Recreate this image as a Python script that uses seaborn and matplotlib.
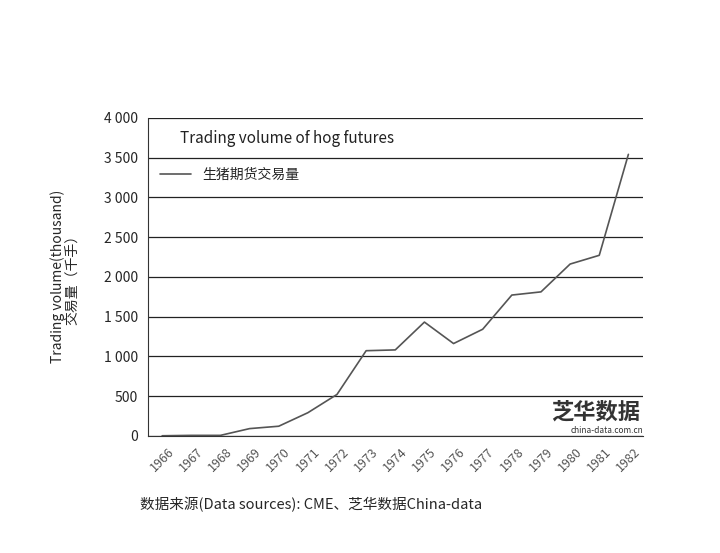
import matplotlib
matplotlib.use('Agg')
import matplotlib.pyplot as plt
import seaborn as sns
import pandas as pd
from matplotlib.ticker import FuncFormatter

years = [str(y) for y in range(1966, 1983)]
volume = [0, 5, 5, 90, 120, 290, 520, 1070, 1080, 1430, 1160, 1340, 1770, 1810, 2160, 2270, 3540]
yticks = [0, 500, 1000, 1500, 2000, 2500, 3000, 3500, 4000]

sns.set_style("white")
plt.rcParams['font.family'] = ['Noto Sans CJK SC', 'DejaVu Sans']

df = pd.DataFrame({'year': years, 'volume': volume})
fig = plt.figure(figsize=(7.2, 5.53), dpi=100)
ax = fig.add_axes([0.205, 0.212, 0.688, 0.575])
sns.lineplot(data=df, x='year', y='volume', ax=ax, color='#555555', lw=1.2,
             label='生猪期货交易量', sort=False)
ax.set_ylim(0, 4000)
ax.set_xlim(-0.5, len(years) - 0.5)
ax.set_yticks(yticks)
ax.yaxis.set_major_formatter(FuncFormatter(lambda v, p: f'{int(v):,}'.replace(',', ' ')))
ax.grid(axis='y', color='#222222', lw=0.9)
for s in ['top', 'right']:
    ax.spines[s].set_visible(False)
ax.spines['left'].set_color('#333333')
ax.spines['bottom'].set_color('#333333')
ax.tick_params(axis='x', labelrotation=45, labelsize=9, colors='#555555')
ax.tick_params(axis='y', labelsize=10)
ax.set_xlabel('')
ax.set_ylabel('Trading volume(thousand)\n交易量（千手）', fontsize=10, linespacing=1.0,
              labelpad=18)
ax.text(0.065, 0.935, 'Trading volume of hog futures', transform=ax.transAxes,
        fontsize=11, va='center', color='#222222')
ax.legend(loc='center left', frameon=False, fontsize=10, handlelength=2.2,
          bbox_to_anchor=(0.0, 0.82))
ax.text(0.995, 0.055, '芝华数据', transform=ax.transAxes, ha='right', fontsize=16,
        fontweight='bold', color='#333333', zorder=5)
ax.text(1.0, 0.01, 'china-data.com.cn', transform=ax.transAxes, ha='right', fontsize=6,
        color='#333333', zorder=5)
fig.text(0.195, 0.08, '数据来源(Data sources): CME、芝华数据China-data', fontsize=10.5,
         family=['Noto Sans CJK SC', 'DejaVu Sans'])
fig.savefig('out.png', dpi=100)
